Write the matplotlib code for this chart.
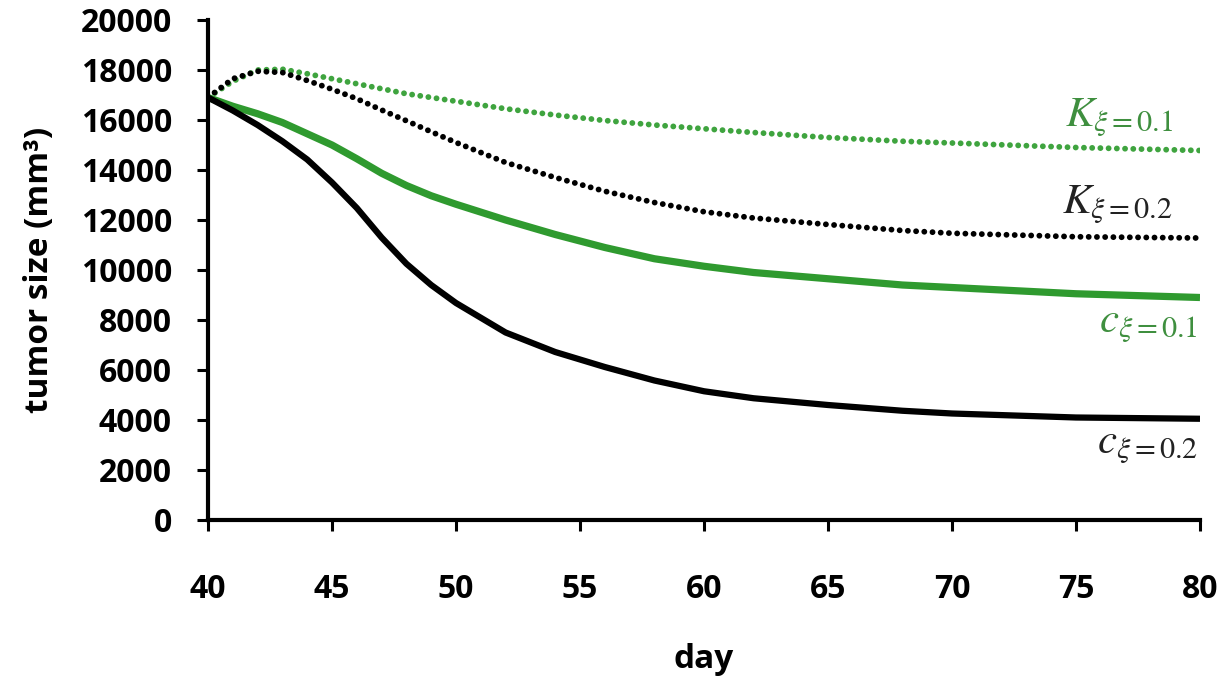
import matplotlib
matplotlib.use("Agg")
import matplotlib.pyplot as plt

plt.rcParams["mathtext.fontset"] = "stix"

# days
day = [40, 41, 42, 43, 44, 45, 46, 47, 48, 49, 50, 52, 54, 56, 58, 60, 62, 65, 68, 70, 75, 80]

# K, xi = 0.1 (green dotted)
k_01 = [16900, 17550, 18000, 18030, 17850, 17650, 17450, 17250, 17050, 16900, 16750,
        16450, 16200, 15980, 15800, 15650, 15500, 15300, 15150, 15080, 14900, 14780]
# K, xi = 0.2 (black dotted)
k_02 = [16900, 17650, 17950, 17900, 17580, 17230, 16850, 16400, 15970, 15530, 15100,
        14300, 13700, 13150, 12700, 12330, 12080, 11820, 11580, 11470, 11330, 11280]
# c, xi = 0.1 (green solid)
c_01 = [16900, 16550, 16250, 15900, 15450, 15000, 14450, 13870, 13380, 12970, 12630,
        12000, 11420, 10900, 10450, 10150, 9900, 9650, 9400, 9300, 9050, 8900]
# c, xi = 0.2 (black solid)
c_02 = [16900, 16380, 15800, 15150, 14420, 13500, 12480, 11300, 10250, 9400, 8680,
        7500, 6720, 6120, 5580, 5150, 4870, 4600, 4370, 4260, 4100, 4050]

green = "#2f9a2f"
green_dot = "#3fa43f"
dots = (0, (0.01, 1.4))

fig = plt.figure(figsize=(12.27, 6.87), dpi=100)
ax = fig.add_axes([208 / 1227, 1 - 520 / 687, 992 / 1227, 500 / 687])

ax.plot(day, k_01, color=green_dot, lw=4.2, linestyle=dots, dash_capstyle="round")
ax.plot(day, k_02, color="black", lw=4.2, linestyle=dots, dash_capstyle="round")
ax.plot(day, c_01, color=green, lw=5.2, solid_capstyle="butt", solid_joinstyle="round")
ax.plot(day, c_02, color="black", lw=4.5, solid_capstyle="butt", solid_joinstyle="round")

lab = dict(fontsize=31, ha="right", va="center")
ax.text(78.9, 16080, r"$K_{\xi\mathrm{=0.1}}$", color="#3f8f3f", **lab)
ax.text(78.9, 12600, r"$K_{\xi\mathrm{=0.2}}$", color="#222222", **lab)
ax.text(79.9, 7850, r"$c_{\xi\mathrm{=0.1}}$", color="#3f8f3f", **lab)
ax.text(79.9, 3000, r"$c_{\xi\mathrm{=0.2}}$", color="#222222", **lab)

ax.set_xlim(40, 80)
ax.set_ylim(0, 20000)
ax.set_xticks(range(40, 81, 5))
ax.set_yticks(range(0, 20001, 2000))

for s in ["top", "right"]:
    ax.spines[s].set_visible(False)
for s in ["left", "bottom"]:
    ax.spines[s].set_linewidth(3)

ax.tick_params(direction="out", length=8, width=2.2, colors="black")
ax.tick_params(axis="x", pad=30)
ax.tick_params(axis="y", pad=18)
for t in ax.get_xticklabels() + ax.get_yticklabels():
    t.set_fontfamily("Open Sans")
    t.set_fontweight("bold")
    t.set_fontsize(23)

fig.text(40 / 1227, 1 - 270 / 687, "tumor size (mm³)", rotation=90, ha="center", va="center",
         fontfamily="Open Sans", fontweight="bold", fontsize=24)
fig.text(704 / 1227, 1 - 660 / 687, "day", ha="center", va="center",
         fontfamily="Open Sans", fontweight="bold", fontsize=24)

fig.savefig("out.png", dpi=100)
